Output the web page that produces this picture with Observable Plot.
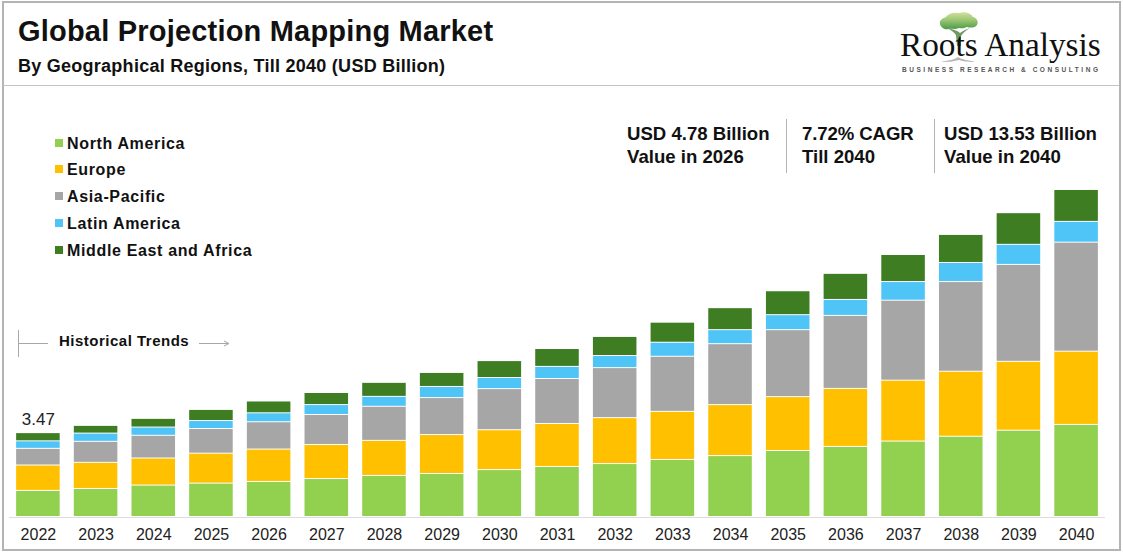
<!DOCTYPE html>
<html>
<head>
<meta charset="utf-8">
<script src="https://cdn.jsdelivr.net/npm/d3@7"></script>
<script src="https://cdn.jsdelivr.net/npm/@observablehq/plot@0.6"></script>
<style>
html,body{margin:0;padding:0;background:#fff;overflow:hidden}
body{width:1123px;height:553px;position:relative;font-family:"Liberation Sans",Arial,sans-serif;color:#111}
#frame{position:absolute;left:2px;top:1px;width:1115px;height:546px;border:2px solid #b4b4b4;box-sizing:content-box}
#rule{position:absolute;left:3px;top:85px;width:1116px;height:1px;background:#c4c4c4}
#chart{position:absolute;left:0;top:0}
.t{position:absolute;white-space:nowrap;font-weight:700;line-height:1}
.sep{position:absolute;width:1px;top:119px;height:54px;background:#b4b4b4}
.sw{position:absolute;left:55px;width:8px;height:8px}
#deco{position:absolute;left:0;top:0}
</style>
</head>
<body>
<div id="frame"></div>
<div id="rule"></div>
<div id="chart"></div>
<svg id="deco" width="1123" height="553">
  <defs>
    <linearGradient id="crown" x1="0" y1="0" x2="0" y2="1">
      <stop offset="0" stop-color="#d4dfa0"/><stop offset=".45" stop-color="#9cc873"/><stop offset="1" stop-color="#4b9a4a"/>
    </linearGradient>
  </defs>
  <path fill="url(#crown)" d="M940 24 C939 20 943 18 946 17 C948 13 955 12 959 13 C964 11 971 13 973 17 C977 18 979 22 977 25 C975 28 970 28 967 27 C963 29 961 28 959 28 C955 30 951 28 949 29 C945 30 941 28 940 24 Z"/>
  <path d="M947 28 C951 30 954 32 956 35 L957 46 L961 46 L961 36 C963 33 966 30 970 28 C966 29 963 31 960 33 C958 31 953 29 947 28 Z" fill="#6f9a62"/>
  <path d="M941 62 C950 60 954 60 958 57 C962 60 968 60 975 62 C966 62 962 61 959 60 C955 61 950 62 941 62 Z" fill="#b5b5b5"/>
  <text x="900" y="56" font-family="Liberation Serif" font-size="33.3" fill="#111">Roots Analysis</text>
  <text x="902" y="72" font-family="Liberation Sans" font-weight="700" font-size="6.5" fill="#555" textLength="196" lengthAdjust="spacing">BUSINESS RESEARCH &amp; CONSULTING</text>
  <g stroke="#a8a8a8" stroke-width="1" fill="none">
    <path d="M18.5 330V357"/>
    <path d="M19 343.5H48"/>
    <path d="M199 343.5H228M224 341L229 343.5L224 346"/>
  </g>
</svg>
<div class="t" style="left:18px;top:17px;font-size:29px;letter-spacing:.2px">Global Projection Mapping Market</div>
<div class="t" style="left:18px;top:57px;font-size:18px;letter-spacing:.26px">By Geographical Regions, Till 2040 (USD Billion)</div>
<div class="t" style="left:59px;top:333px;font-size:15px;letter-spacing:.5px">Historical Trends</div>
<div class="t" style="left:627px;top:125px;font-size:18.6px">USD 4.78 Billion</div>
<div class="t" style="left:627px;top:148px;font-size:18.6px">Value in 2026</div>
<div class="sep" style="left:786px"></div>
<div class="t" style="left:802px;top:125px;font-size:18.6px;letter-spacing:-.1px">7.72% CAGR</div>
<div class="t" style="left:802px;top:148px;font-size:18.6px">Till 2040</div>
<div class="sep" style="left:934px"></div>
<div class="t" style="left:944px;top:125px;font-size:18.6px">USD 13.53 Billion</div>
<div class="t" style="left:944px;top:148px;font-size:18.6px">Value in 2040</div>
<div id="legend"></div>
<script>
const years = [2022,2023,2024,2025,2026,2027,2028,2029,2030,2031,2032,2033,2034,2035,2036,2037,2038,2039,2040];
const northAmerica = [1.08,1.16,1.30,1.38,1.45,1.57,1.70,1.78,1.94,2.07,2.19,2.36,2.52,2.73,2.90,3.12,3.32,3.57,3.81];
const europe       = [1.05,1.08,1.12,1.24,1.34,1.41,1.45,1.61,1.65,1.78,1.90,1.99,2.11,2.23,2.40,2.52,2.69,2.85,3.03];
const asiaPacific  = [0.69,0.87,0.94,1.02,1.13,1.24,1.41,1.53,1.70,1.86,2.07,2.28,2.52,2.77,3.02,3.31,3.71,4.01,4.51];
const latinAmerica = [0.31,0.34,0.34,0.33,0.37,0.41,0.41,0.46,0.46,0.50,0.50,0.58,0.58,0.62,0.66,0.77,0.79,0.83,0.86];
const middleEast   = [0.34,0.32,0.36,0.46,0.49,0.50,0.58,0.58,0.70,0.74,0.79,0.83,0.91,0.99,1.08,1.12,1.16,1.31,1.32];
const regions = ["North America","Europe","Asia-Pacific","Latin America","Middle East and Africa"];
const colors = ["#92d050","#ffc000","#a6a6a6","#4ec4f7","#3f7d23"];
const series = [northAmerica,europe,asiaPacific,latinAmerica,middleEast];
const firstLabel = [{year:2022,total:3.47,label:"3.47"}];

const table = regions.flatMap((r,i)=>years.map((y,j)=>({year:y,region:r,value:series[i][j]})));

const plot = Plot.plot({
  width:1123,height:553,
  marginTop:0,marginBottom:36,marginLeft:2,marginRight:11,
  style:{background:"transparent",fontFamily:"Liberation Sans",overflow:"visible"},
  x:{domain:years,padding:0.245,round:false,label:null,tickSize:0,tickPadding:11,tickFormat:d=>String(d)},
  y:{domain:[0,21.39],axis:null},
  color:{domain:regions,range:colors},
  marks:[
    Plot.barY(table,{x:"year",y:"value",fill:"region",order:regions,insetBottom:1}),
    Plot.ruleY([0],{stroke:"#dedede",strokeWidth:1,insetLeft:7,insetRight:7}),
    Plot.text(firstLabel,{x:"year",y:"total",text:"label",dy:-14,fontSize:17,fill:"#222"})
  ]
});
plot.querySelectorAll('[aria-label="x-axis tick label"] text').forEach(t=>{t.setAttribute("font-size","16");t.setAttribute("fill","#222")});
plot.querySelector('[aria-label="x-axis tick label"]')?.setAttribute("font-size","16");
document.getElementById("chart").append(plot);

const legendY = [144,170,197,224,251];
const lg = document.getElementById("legend");
regions.forEach((r,i)=>{
  const s=document.createElement("div");s.className="sw";s.style.top=(legendY[i]-5)+"px";s.style.background=colors[i];lg.append(s);
  const t=document.createElement("div");t.className="t";t.textContent=r;
  t.style.cssText=`left:67px;top:${legendY[i]-8}px;font-size:16px;letter-spacing:.65px`;lg.append(t);
});
</script>
</body>
</html>
